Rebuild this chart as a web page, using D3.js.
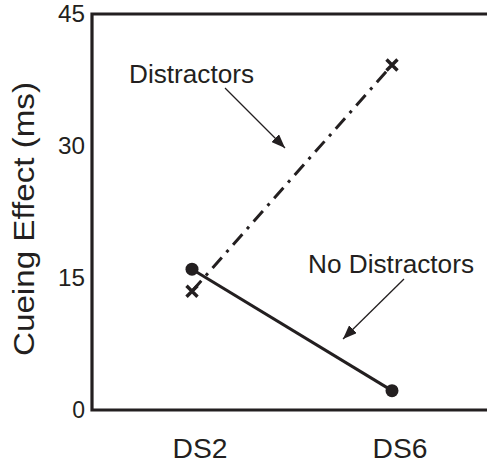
<!DOCTYPE html>
<html>
<head>
<meta charset="utf-8">
<script src="https://cdn.jsdelivr.net/npm/d3@7"></script>
<style>
  body { margin: 0; background: #fff; }
  text { font-family: "Liberation Sans", Arial, sans-serif; fill: #231f20; }
</style>
</head>
<body>
<div id="chart"></div>
<script>
// data
var categories = ["DS2", "DS6"];
var noDistractors = [16.0, 2.2];
var distractors = [13.5, 39.2];
var yTicks = [0, 15, 30, 45];

var svgWidth = 487;
var svgHeight = 467;
var ink = "#231f20";

var svg = d3.select("#chart").append("svg")
  .attr("width", svgWidth)
  .attr("height", svgHeight);

// scales
var x = d3.scalePoint()
  .domain(categories)
  .range([92, 492])
  .padding(0.5);

var y = d3.scaleLinear()
  .domain([0, 45])
  .range([410, 14]);

// arrowhead marker
svg.append("defs").append("marker")
  .attr("id", "head")
  .attr("viewBox", "0 0 14 11")
  .attr("refX", 14)
  .attr("refY", 5.5)
  .attr("markerWidth", 14)
  .attr("markerHeight", 11)
  .attr("markerUnits", "userSpaceOnUse")
  .attr("orient", "auto")
  .append("path")
  .attr("d", "M0,0 L14,5.5 L0,11 Z")
  .attr("fill", ink);

// frame: top, left, bottom (right side runs off the picture)
svg.append("path")
  .attr("d", "M" + x.range()[1] + "," + y(45) + " H" + x.range()[0] + " V" + y(0) + " H" + x.range()[1])
  .attr("fill", "none")
  .attr("stroke", ink)
  .attr("stroke-width", 3.2);

// y tick labels
svg.append("g")
  .selectAll("text")
  .data(yTicks)
  .enter()
  .append("text")
  .attr("x", 85)
  .attr("y", function(d) { return y(d); })
  .attr("dy", "0.36em")
  .attr("text-anchor", "end")
  .attr("font-size", 23)
  .attr("textLength", function(d) { return d === 0 ? null : 27; })
  .attr("lengthAdjust", "spacingAndGlyphs")
  .text(function(d) { return d; });

// x labels
svg.append("g")
  .selectAll("text")
  .data(categories)
  .enter()
  .append("text")
  .attr("x", function(d) { return x(d) + 8; })
  .attr("y", 458)
  .attr("text-anchor", "middle")
  .attr("font-size", 27)
  .attr("textLength", 55)
  .attr("lengthAdjust", "spacingAndGlyphs")
  .text(function(d) { return d; });

// y title
svg.append("text")
  .attr("transform", "translate(34," + 219 + ") rotate(-90)")
  .attr("text-anchor", "middle")
  .attr("font-size", 30)
  .attr("textLength", 274)
  .attr("lengthAdjust", "spacingAndGlyphs")
  .text("Cueing Effect (ms)");

// distractors: dash-dot line with crosses
var line = d3.line()
  .x(function(d, i) { return x(categories[i]); })
  .y(function(d) { return y(d); });

svg.append("path")
  .datum(distractors)
  .attr("d", line)
  .attr("fill", "none")
  .attr("stroke", ink)
  .attr("stroke-width", 3)
  .attr("stroke-dasharray", "14,7,3,7");

var s = 5.5;
svg.append("g")
  .selectAll("path")
  .data(distractors)
  .enter()
  .append("path")
  .attr("transform", function(d, i) { return "translate(" + x(categories[i]) + "," + y(d) + ")"; })
  .attr("d", "M" + (-s) + "," + (-s) + " L" + s + "," + s + " M" + (-s) + "," + s + " L" + s + "," + (-s))
  .attr("stroke", ink)
  .attr("stroke-width", 3.4);

// no distractors: solid line with dots
svg.append("path")
  .datum(noDistractors)
  .attr("d", line)
  .attr("fill", "none")
  .attr("stroke", ink)
  .attr("stroke-width", 3);

svg.append("g")
  .selectAll("circle")
  .data(noDistractors)
  .enter()
  .append("circle")
  .attr("cx", function(d, i) { return x(categories[i]); })
  .attr("cy", function(d) { return y(d); })
  .attr("r", 6.5)
  .attr("fill", ink);

// annotations
svg.append("text")
  .attr("x", 129)
  .attr("y", 83)
  .attr("font-size", 25)
  .attr("textLength", 125)
  .attr("lengthAdjust", "spacingAndGlyphs")
  .text("Distractors");

svg.append("line")
  .attr("x1", 225).attr("y1", 88)
  .attr("x2", 285).attr("y2", 148)
  .attr("stroke", ink)
  .attr("stroke-width", 1.3)
  .attr("marker-end", "url(#head)");

svg.append("text")
  .attr("x", 308)
  .attr("y", 273)
  .attr("font-size", 25)
  .attr("textLength", 166)
  .attr("lengthAdjust", "spacingAndGlyphs")
  .text("No Distractors");

svg.append("line")
  .attr("x1", 404).attr("y1", 279)
  .attr("x2", 343).attr("y2", 339)
  .attr("stroke", ink)
  .attr("stroke-width", 1.3)
  .attr("marker-end", "url(#head)");
</script>
</body>
</html>
